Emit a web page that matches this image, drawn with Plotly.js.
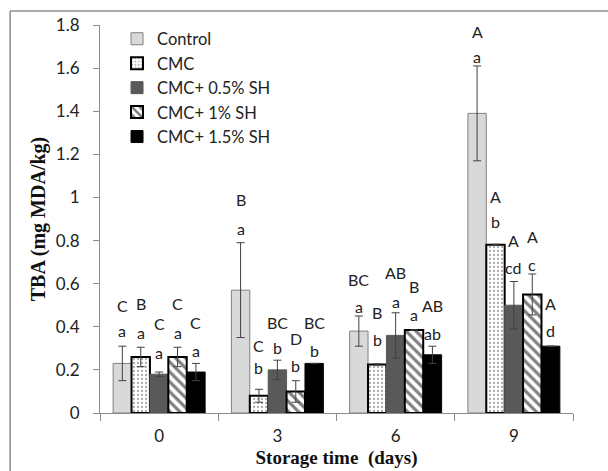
<!DOCTYPE html>
<html>
<head>
<meta charset="utf-8">
<script src="https://cdn.plot.ly/plotly-3.0.1.min.js"></script>
<style>
  html, body { margin: 0; padding: 0; background: #ffffff; }
  #chart { width: 608px; height: 471px; }
</style>
</head>
<body>
<div id="chart"></div>
<script>
// ---- data ----
const days = ['0', '3', '6', '9'];
const seriesNames = ['Control', 'CMC', 'CMC+ 0.5% SH', 'CMC+ 1% SH', 'CMC+ 1.5% SH'];

const control    = [0.23, 0.57, 0.38, 1.39];
const controlErr = [0.08, 0.22, 0.07, 0.22];
const cmc        = [0.26, 0.08, 0.225, 0.78];
const cmcErr     = [0.045, 0.03, 0.003, 0.003];
const cmc05      = [0.18, 0.20, 0.36, 0.50];
const cmc05Err   = [0.01, 0.045, 0.105, 0.11];
const cmc1       = [0.26, 0.10, 0.385, 0.55];
const cmc1Err    = [0.045, 0.05, 0, 0.095];
const cmc15      = [0.19, 0.23, 0.27, 0.31];
const cmc15Err   = [0.04, 0, 0.04, 0];

// significance letters (upper = between days, lower = between treatments)
const upperControl = ['C', 'B', 'BC', 'A'];
const upperCmc     = ['B', 'C', 'B', 'A'];
const upperCmc05   = ['C', 'BC', 'AB', 'A'];
const upperCmc1    = ['C', 'D', 'B', 'A'];
const upperCmc15   = ['C', 'BC', 'AB', 'A'];
const lowerControl = ['a', 'a', 'a', 'a'];
const lowerCmc     = ['a', 'b', 'b', 'b'];
const lowerCmc05   = ['a', 'b', 'a', 'cd'];
const lowerCmc1    = ['a', 'b', 'a', 'c'];
const lowerCmc15   = ['a', 'b', 'ab', 'd'];

// ---- styling / layout ----
const values = [control, cmc, cmc05, cmc1, cmc15];
const errs = [controlErr, cmcErr, cmc05Err, cmc1Err, cmc15Err];
const uppers = [upperControl, upperCmc, upperCmc05, upperCmc1, upperCmc15];
const lowers = [lowerControl, lowerCmc, lowerCmc05, lowerCmc1, lowerCmc15];

// pixel lift of the letters above the error-bar cap (layout only)
const lowLift = [[16, 14, 10, 9], [15, 22, 24, 23], [20, 13, 11, 14], [15, 15, 16, 9], [13, 13, 13, 16]];
const highLift = [[41, 43, 37, 34], [44, 44, 51, 48], [49, 38, 40, 41], [44, 42, 44, 37], [41, 41, 41, 43]];

const markers = [
  { color: '#d9d9d9', line: { color: '#808080', width: 1 } },
  { color: '#ffffff', line: { color: '#000000', width: 2 },
    pattern: { shape: '.', fgcolor: '#555555', bgcolor: '#ffffff', size: 4, solidity: 0.25, fillmode: 'overlay' } },
  { color: '#595959', line: { color: '#595959', width: 1 } },
  { color: '#ffffff', line: { color: '#000000', width: 2 },
    pattern: { shape: '\\', fgcolor: '#000000', bgcolor: '#ffffff', size: 7, solidity: 0.45, fillmode: 'overlay' } },
  { color: '#000000', line: { color: '#000000', width: 1 } }
];

const traces = values.map((v, i) => ({
  type: 'bar',
  name: seriesNames[i],
  x: days,
  y: v,
  marker: markers[i],
  error_y: { type: 'data', array: errs[i], visible: true, color: '#404040', thickness: 1, width: 4 },
  hoverinfo: 'skip'
}));

const sans = 'Lato, "Open Sans", sans-serif';
const serif = '"Liberation Serif", "Times New Roman", serif';

const bargap = 0.222;
const barW = (1 - bargap) / values.length;
const annotations = [];
const letterFont = { family: sans, size: 16, color: '#222222' };
values.forEach((v, i) => {
  v.forEach((val, k) => {
    const top = val + errs[i][k];
    const xpos = k + (i - (values.length - 1) / 2) * barW;
    annotations.push({ xref: 'x', yref: 'y', x: xpos, y: top, text: lowers[i][k], showarrow: false,
      yanchor: 'middle', xanchor: 'center', yshift: lowLift[i][k], font: letterFont });
    annotations.push({ xref: 'x', yref: 'y', x: xpos, y: top, text: uppers[i][k], showarrow: false,
      yanchor: 'middle', xanchor: 'center', yshift: highLift[i][k], font: letterFont });
  });
});

const layout = {
  width: 608, height: 471,
  margin: { l: 100, r: 35, t: 25, b: 58 },
  paper_bgcolor: '#ffffff',
  plot_bgcolor: '#ffffff',
  barmode: 'group',
  bargap: bargap,
  bargroupgap: 0,
  showlegend: true,
  legend: {
    x: 0.036, y: 1.009, xanchor: 'left', yanchor: 'top',
    bgcolor: 'rgba(0,0,0,0)',
    font: { family: sans, size: 16.5, color: '#222222' },
    tracegroupgap: 0, itemwidth: 30
  },
  xaxis: {
    type: 'category',
    showline: true, linecolor: '#8c8c8c', linewidth: 1,
    ticks: 'outside', tickson: 'boundaries', ticklen: 7, tickcolor: '#8c8c8c',
    ticklabelstandoff: 8,
    showgrid: false, zeroline: false,
    tickfont: { family: sans, size: 17, color: '#222222' },
    title: { text: 'Storage time  (days)', standoff: 5,
      font: { family: serif, size: 19, color: '#111111', weight: 'bold' } }
  },
  yaxis: {
    range: [0, 1.8], dtick: 0.2,
    showline: true, linecolor: '#8c8c8c', linewidth: 1,
    ticks: 'outside', ticklen: 6, tickcolor: '#8c8c8c',
    ticklabelstandoff: 10,
    showgrid: false, zeroline: false,
    tickfont: { family: sans, size: 17, color: '#222222' },
    title: { text: 'TBA (mg MDA/kg)', standoff: 4,
      font: { family: serif, size: 20, color: '#111111', weight: 'bold' } }
  },
  annotations: annotations,
  shapes: [
    { type: 'line', xref: 'paper', yref: 'paper', x0: -0.19, x1: 1.2, y0: 1.036, y1: 1.036,
      line: { color: '#8c8c8c', width: 1.5 } },
    { type: 'line', xref: 'paper', yref: 'paper', x0: -0.19, x1: -0.19, y0: 1.036, y1: -0.2,
      line: { color: '#8c8c8c', width: 1.5 } }
  ]
};

Plotly.newPlot('chart', traces, layout, { displayModeBar: false, staticPlot: true });
</script>
</body>
</html>
